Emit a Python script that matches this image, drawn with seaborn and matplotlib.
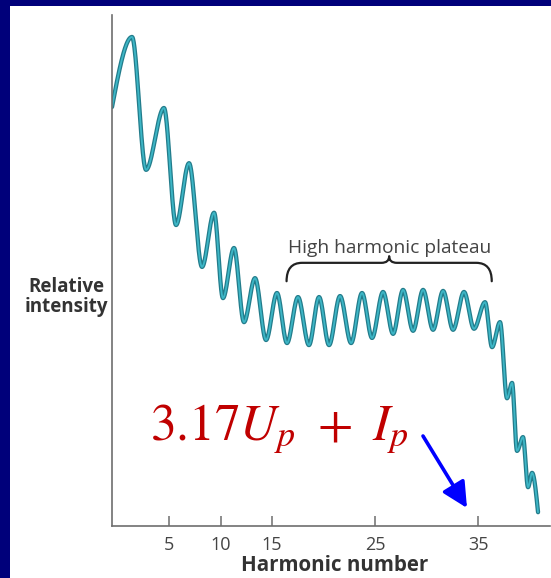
import numpy as np
import pandas as pd
import matplotlib
matplotlib.use("Agg")
import matplotlib.pyplot as plt
from matplotlib.patches import Rectangle, FancyArrowPatch, PathPatch
from matplotlib.path import Path
import seaborn as sns

# ---- data (harmonic number, relative intensity 0-100) ----
harmonic = [-0.53, 1.41, 2.77, 4.51, 5.68, 6.94, 8.20, 9.37, 10.23, 11.30, 12.27,
            13.34, 14.41, 15.47, 16.44, 17.51, 18.57, 19.55, 20.52, 21.59, 22.66,
            23.72, 24.69, 25.76, 26.73, 27.70, 28.67, 29.64, 30.61, 31.58, 32.55,
            33.61, 34.58, 35.65, 36.33, 37.10, 37.78, 38.27, 38.75, 39.33, 39.82,
            40.21, 40.79]
intensity = [82.0, 95.7, 69.7, 81.8, 58.9, 71.0, 50.7, 61.3, 44.6, 54.4, 39.9,
             48.5, 36.4, 45.6, 35.8, 44.8, 35.4, 44.8, 35.4, 45.0, 35.8,
             45.6, 36.8, 45.8, 37.6, 46.2, 38.2, 46.2, 38.4, 46.0, 38.4,
             45.8, 38.6, 43.8, 35.0, 39.9, 25.0, 28.0, 14.7, 17.4, 7.6,
             10.4, 2.7]
tick_values = [5, 10, 15, 25, 35]
tick_labels = ["5", "10", "15", "25", "35"]
plateau_span = (16.4, 36.3)
plateau_label = "High harmonic plateau"
formula = r"$3.17U_p\ +\ I_p$"
x_label = "Harmonic number"
y_label = "Relative\nintensity"

# ---- smooth rendering of the curve through its read extrema (Hermite, flat at extrema) ----
def smooth_curve(xs, ys, n=40):
    xs = np.asarray(xs, float); ys = np.asarray(ys, float)
    m = np.zeros_like(xs)
    m[0] = 1.5 * (ys[1] - ys[0]) / (xs[1] - xs[0])
    m[-1] = 1.5 * (ys[-1] - ys[-2]) / (xs[-1] - xs[-2])
    outx, outy = [], []
    for i in range(len(xs) - 1):
        t = np.linspace(0, 1, n, endpoint=(i == len(xs) - 2))
        h = xs[i + 1] - xs[i]
        h00 = 2 * t**3 - 3 * t**2 + 1
        h10 = t**3 - 2 * t**2 + t
        h01 = -2 * t**3 + 3 * t**2
        h11 = t**3 - t**2
        outx.append(xs[i] + t * h)
        outy.append(h00 * ys[i] + h10 * h * m[i] + h01 * ys[i + 1] + h11 * h * m[i + 1])
    return np.concatenate(outx), np.concatenate(outy)

cx, cy = smooth_curve(harmonic, intensity)
df = pd.DataFrame({"harmonic": cx, "intensity": cy})

sns.set_style("white")
plt.rcParams["font.family"] = ["Open Sans", "DejaVu Sans"]
plt.rcParams["mathtext.fontset"] = "stix"

W, H = 551, 578
fig = plt.figure(figsize=(W / 100, H / 100), dpi=100)
fig.patch.set_facecolor("#00007a")
fig.patches.append(Rectangle((10 / W, 0), 1 - 10 / W, 1 - 6 / H, transform=fig.transFigure,
                             facecolor="white", edgecolor="none", zorder=-10))

ax = fig.add_axes([111.7 / W, 52 / H, (550 - 111.7) / W, 511 / H])
ax.set_facecolor("none")
ax.set_zorder(1)

sns.lineplot(data=df, x="harmonic", y="intensity", ax=ax, color="#237c8b",
             linewidth=3.1, estimator=None, sort=False)
sns.lineplot(data=df, x="harmonic", y="intensity", ax=ax, color="#3db6c6",
             linewidth=1.3, estimator=None, sort=False)

ax.set_xlim(-0.56, 41.95)
ax.set_ylim(0, 100)
for s in ("top", "right"):
    ax.spines[s].set_visible(False)
for s in ("left", "bottom"):
    ax.spines[s].set_color("#6e6e6e")
    ax.spines[s].set_linewidth(1.2)

ax.set_yticks([])
ax.set_xticks(tick_values)
ax.set_xticklabels(tick_labels)
ax.tick_params(axis="x", bottom=True, direction="in", length=7.5, width=1.1, color="#6e6e6e",
               labelsize=13, labelcolor="#444444", pad=7)

ax.set_xlabel(x_label, fontsize=14.8, fontweight="bold", color="#333333", va="baseline")
ax.xaxis.set_label_coords(0.508, -0.089, transform=ax.transAxes)
ax.set_ylabel(y_label, fontsize=13.5, fontweight="bold", color="#333333",
              rotation=0, ha="center", va="center", linespacing=0.95)
ax.yaxis.set_label_coords(-0.104, 0.448)

# plateau brace
x0, x1 = plateau_span
xm = (x0 + x1) / 2
yb, ye, yt = 51.5, 47.9, 52.8
dx = 1.5
verts = [(x0, ye), (x0, yb), (x0 + dx, yb),
         (xm - dx * 0.5, yb), (xm, yb), (xm, yt),
         (xm, yb), (xm + dx * 0.5, yb),
         (x1 - dx, yb), (x1, yb), (x1, ye)]
codes = [Path.MOVETO, Path.CURVE3, Path.CURVE3,
         Path.LINETO, Path.CURVE3, Path.CURVE3,
         Path.CURVE3, Path.CURVE3,
         Path.LINETO, Path.CURVE3, Path.CURVE3]
ax.add_patch(PathPatch(Path(verts, codes), facecolor="none", edgecolor="#222222",
                       linewidth=1.6, capstyle="round", joinstyle="round"))
ax.text(xm, 53.4, plateau_label, ha="center", va="baseline", fontsize=13.8, color="#444444")

# cutoff formula and arrow
fig.text(150 / W, 1 - 440 / H, formula, fontsize=37, color="#c00000", ha="left",
         va="baseline", zorder=5)
arrow = FancyArrowPatch((423 / W, 1 - 436 / H), (467 / W, 1 - 508 / H),
                        transform=fig.transFigure, arrowstyle="-|>,head_length=1.1,head_width=0.55",
                        mutation_scale=14, color="#0000ff", linewidth=2.6, zorder=5,
                        shrinkA=0, shrinkB=0)
fig.patches.append(arrow)

fig.savefig("out.png", dpi=100)
